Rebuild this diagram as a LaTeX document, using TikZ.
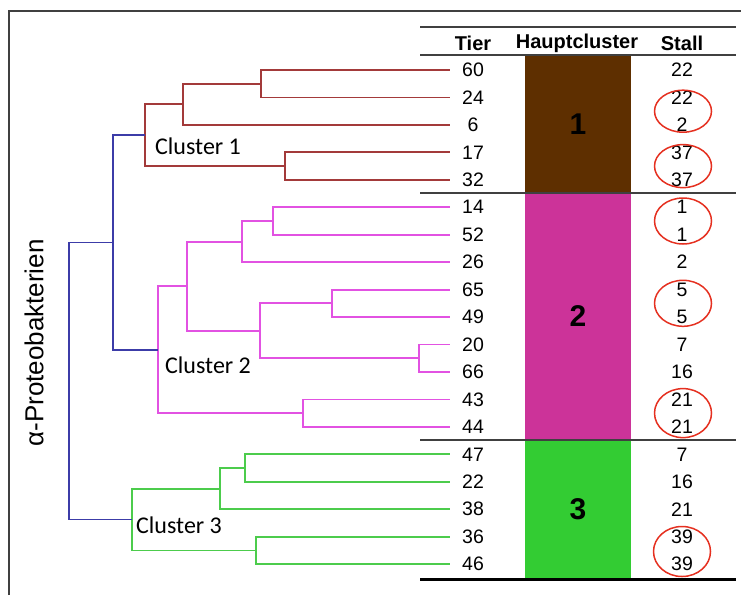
\documentclass[tikz,border=0pt]{standalone}
\usepackage{fontspec}
\setmainfont{Liberation Sans}
\newfontfamily\calfont{Carlito}
\usetikzlibrary{shapes.geometric}

\definecolor{cbrown}{HTML}{A33A3A}
\definecolor{cmag}{HTML}{E252E2}
\definecolor{cgreen}{HTML}{4CCC4C}
\definecolor{cblue}{HTML}{3C3CA8}
\definecolor{barbrown}{HTML}{5E2F00}
\definecolor{barmag}{HTML}{CC3399}
\definecolor{bargreen}{HTML}{33CC33}
\definecolor{ringred}{HTML}{E53020}
\definecolor{framegray}{HTML}{404040}

\begin{document}
\begin{tikzpicture}[x=1pt,y=-1pt,
  branch/.style={line width=1.8pt},
  rowtext/.style={font=\fontsize{19.5}{19.5}\selectfont, inner sep=0pt},
  headtext/.style={font=\fontsize{20}{20}\selectfont\bfseries, inner sep=0pt},
  barbox/.style={minimum width=106pt, inner sep=0pt, outer sep=0pt,
    font=\fontsize{30}{30}\selectfont\bfseries},
  ring/.style={draw=ringred, line width=1.5pt, ellipse, minimum width=57pt, inner sep=0pt},
  clusterlabel/.style={font=\calfont\fontsize{24}{24}\selectfont, anchor=west, inner sep=0pt},
  rule/.style={draw=framegray, line width=1.3pt}
]
\useasboundingbox (0,0) rectangle (741,595);

% outer frame (top and left edges)
\draw[framegray, line width=1.3pt] (9,595) -- (9,11) -- (741,11);

% colour bars of the main clusters
\node[barbox, fill=barbrown, minimum height=138pt] (bar1) at (578,124) {1};
\node[barbox, fill=barmag, minimum height=247pt] (bar2) at (578,316.5) {2};
\node[barbox, fill=bargreen, minimum height=139pt] (bar3) at (578,509.5) {3};

% table rules
\draw[rule] (420,27) -- (736,27);
\draw[rule] (420,55) -- (736,55);
\draw[rule] (420,193) -- (736,193);
\draw[rule] (420,440) -- (736,440);
\draw[black, line width=3pt] (420,579) -- (736,579);

% header
\node[headtext] (hTier) at (473,43) {Tier};
\node[headtext] (hCluster) at (577,43) {Hauptcluster};
\node[headtext] (hStall) at (682,43) {Stall};

% rows: animal number, leaf end point, stable number
\foreach \t/\s [count=\i from 0] in
  {60/22,24/22,6/2,17/37,32/37,14/1,52/1,26/2,65/5,49/5,20/7,66/16,43/21,44/21,47/7,22/16,38/21,36/39,46/39} {
  \node[rowtext] (t\i) at (473,{70+27.45*\i}) {\t};
  \node[rowtext] (s\i) at (682,{70+27.45*\i}) {\s};
  \coordinate (l\i) at (450,{70+27.45*\i});
}

% rings around pairs of stables
\node[ring, minimum height=42pt] (r1) at (683,111.2) {};
\node[ring, minimum height=43pt] (r2) at (683,166.1) {};
\node[ring, minimum height=46pt] (r3) at (683,221) {};
\node[ring, minimum height=46pt] (r4) at (683,303.3) {};
\node[ring, minimum height=49pt] (r5) at (683,413.1) {};
\node[ring, minimum height=50pt] (r6) at (682,551.5) {};

% junctions of the dendrogram
\coordinate (c1a) at (261,83.7);
\coordinate (c1b) at (183,104.3);
\coordinate (c1c) at (285,166.1);
\coordinate (c1)  at (145,135.2);
\coordinate (c2a) at (273,221);
\coordinate (c2b) at (242,241.6);
\coordinate (c2c) at (332,303.3);
\coordinate (c2d) at (419,358.2);
\coordinate (c2e) at (260,330.8);
\coordinate (c2f) at (187,286.2);
\coordinate (c2g) at (303,413.1);
\coordinate (c2)  at (158,349.7);
\coordinate (c3a) at (245,468);
\coordinate (c3b) at (220,488.6);
\coordinate (c3c) at (256,550.4);
\coordinate (c3)  at (132,519.5);
\coordinate (cb)  at (113,242.5);
\coordinate (root) at (69,381);

% cluster 1
\draw[branch, cbrown] (c1a) |- (l0) (c1a) |- (l1);
\draw[branch, cbrown] (c1b) |- (c1a) (c1b) |- (l2);
\draw[branch, cbrown] (c1c) |- (l3) (c1c) |- (l4);
\draw[branch, cbrown] (c1) |- (c1b) (c1) |- (c1c);

% cluster 2
\draw[branch, cmag] (c2a) |- (l5) (c2a) |- (l6);
\draw[branch, cmag] (c2b) |- (c2a) (c2b) |- (l7);
\draw[branch, cmag] (c2c) |- (l8) (c2c) |- (l9);
\draw[branch, cmag] (c2d) |- (l10) (c2d) |- (l11);
\draw[branch, cmag] (c2e) |- (c2c) (c2e) |- (c2d);
\draw[branch, cmag] (c2f) |- (c2b) (c2f) |- (c2e);
\draw[branch, cmag] (c2g) |- (l12) (c2g) |- (l13);
\draw[branch, cmag] (c2) |- (c2f) (c2) |- (c2g);

% cluster 3
\draw[branch, cgreen] (c3a) |- (l14) (c3a) |- (l15);
\draw[branch, cgreen] (c3b) |- (c3a) (c3b) |- (l16);
\draw[branch, cgreen] (c3c) |- (l17) (c3c) |- (l18);
\draw[branch, cgreen] (c3) |- (c3b) (c3) |- (c3c);

% upper levels
\draw[branch, cblue] (cb) |- (c1) (cb) |- (c2);
\draw[branch, cblue] (root) |- (cb) (root) |- (c3);

% labels
\node[clusterlabel] (lab1) at (155,146) {Cluster 1};
\node[clusterlabel] (lab2) at (165,365) {Cluster 2};
\node[clusterlabel] (lab3) at (136,525) {Cluster 3};
\node[rotate=90, font=\fontsize{26}{26}\selectfont, inner sep=0pt] (axis) at (34,343) {α-Proteobakterien};

\end{tikzpicture}
\end{document}
